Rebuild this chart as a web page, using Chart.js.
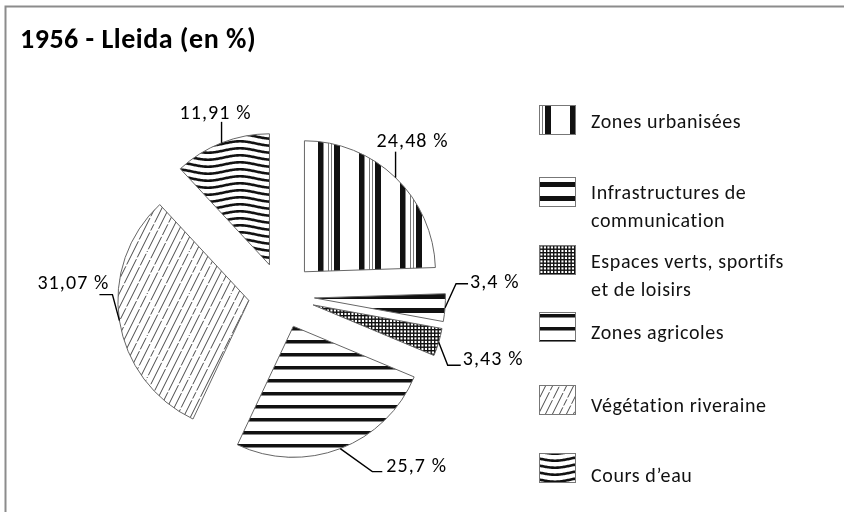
<!DOCTYPE html>
<html><head><meta charset="utf-8">
<script src="https://cdn.jsdelivr.net/npm/chart.js@4.4.0/dist/chart.umd.min.js"></script>
<style>html,body{margin:0;padding:0;background:#fff}#wrap{width:844px;height:512px;position:relative}</style>
</head><body><div id="wrap"><canvas id="c" width="844" height="512"></canvas></div>
<script>
// ---- data ----
const chartTitle = '1956 - Lleida (en %)';
const categories = [
  ['Zones urbanisées'],
  ['Infrastructures de', 'communication'],
  ['Espaces verts, sportifs', 'et de loisirs'],
  ['Zones agricoles'],
  ['Végétation riveraine'],
  ['Cours d\u2019eau']
];
const shares = [24.48, 3.4, 3.43, 25.7, 31.07, 11.91];
const fmt = v => String(v).replace('.', ',') + ' %';

// ---- styles / layout (not data) ----
const FONT = 'Carlito, Lato, "Open Sans", sans-serif';
const EXPLODE = 33;
const labelLayout = [
  {ex: 0,  ey: -26, tail: 0,   tx: -19, ty: -5, align: 'left'},
  {ex: 11, ey: -24, tail: 12,  tx: 2,   ty: 4,  align: 'left'},
  {ex: 9,  ey: 23,  tail: 13,  tx: 2,   ty: 0,  align: 'left'},
  {ex: 32, ey: 23,  tail: 10,  tx: 4,   ty: 0,  align: 'left'},
  {ex: -7, ey: -26, tail: -13, tx: 10,  ty: -6, align: 'right'},
  {ex: 0,  ey: -21, tail: 0,   tx: -42, ty: -3, align: 'left'}
];
const legendLayout = {boxX: 539, boxW: 37, boxH: 30, textX: 591, lineGap: 28,
  boxTops: [105, 177, 245, 312, 385, 453], baselines: [128, 199, 268, 339, 412, 482],
  patShift: [[0, 0], [0, 5], [0, 0], [0, 0], [0, 0], [0, 2]]};

const canvas = document.getElementById('c');
const ctx = canvas.getContext('2d');

function makeTile(w, h, draw) {
  const c = document.createElement('canvas');
  c.width = w; c.height = h;
  const g = c.getContext('2d');
  g.fillStyle = '#fff'; g.fillRect(0, 0, w, h);
  draw(g, w, h);
  return c;
}
const tiles = [
  makeTile(41, 4, g => {
    g.fillStyle = '#111'; g.fillRect(31, 0, 5.5, 4); g.fillRect(6, 0, 6, 4);
    g.fillStyle = '#777'; g.fillRect(0, 0, 1, 4); g.fillRect(3, 0, 1, 4);
  }),
  makeTile(4, 14, g => { g.fillStyle = '#111'; g.fillRect(0, 0, 4, 5); }),
  makeTile(7, 7, g => {
    g.fillStyle = '#111';
    g.fillRect(0, 0, 7, 1.4); g.fillRect(0, 3.5, 7, 1.4);
    g.fillRect(0, 0, 1.4, 7); g.fillRect(3.5, 0, 1.4, 7);
  }),
  makeTile(4, 13, g => { g.fillStyle = '#111'; g.fillRect(0, 2, 4, 3.5); }),
  makeTile(42, 42, g => {
    g.strokeStyle = '#333'; g.lineWidth = 0.9;
    const L = Math.hypot(21, 42);
    const d = [[30, 2, 13], [19, 2, 24], [36, 2, 7], [22, 2, 21], [12, 2, 31], [27, 2, 16]];
    for (let k = 0; k < 6; k++) {
      const dash = d[k].concat([L - d[k][0] - d[k][1] - d[k][2]]);
      for (const ox of [-42, 0, 42]) {
        g.setLineDash(dash); g.lineDashOffset = k * 7;
        g.beginPath(); g.moveTo(k * 7 + ox - 21, 84); g.lineTo(k * 7 + ox + 42, -42); g.stroke();
      }
    }
  }),
  makeTile(64, 7, g => {
    g.strokeStyle = '#111'; g.lineWidth = 2.6;
    for (const y0 of [-7, 0, 7, 14]) {
      g.beginPath();
      for (let x = -2; x <= 66; x++) {
        const y = y0 + 3.5 + 2.2 * Math.sin(2 * Math.PI * x / 64);
        if (x === -2) g.moveTo(x, y); else g.lineTo(x, y);
      }
      g.stroke();
    }
  })
];
const patterns = tiles.map(t => ctx.createPattern(t, 'repeat'));

const explodePlugin = {
  id: 'explode',
  afterDatasetUpdate(chart, args) {
    args.meta.data.forEach(el => {
      const mid = (el.startAngle + el.endAngle) / 2;
      el.x += Math.cos(mid) * EXPLODE;
      el.y += Math.sin(mid) * EXPLODE;
    });
  }
};

function setSpacing(c, px) { if ('letterSpacing' in c) c.letterSpacing = px + 'px'; }

const decorPlugin = {
  id: 'decor',
  afterDraw(chart) {
    const c = chart.ctx;
    c.save();
    // frame (top and left edges)
    c.strokeStyle = '#8c8c8c'; c.lineWidth = 2;
    c.beginPath(); c.moveTo(5.5, 512); c.lineTo(5.5, 6.5); c.lineTo(844, 6.5); c.stroke();
    // title
    c.fillStyle = '#000'; c.textBaseline = 'alphabetic'; c.textAlign = 'left';
    c.font = 'bold 28px ' + FONT; setSpacing(c, 0.5);
    c.fillText(chartTitle, 20, 48);
    // data labels with leader lines
    const meta = chart.getDatasetMeta(0);
    c.font = '20px ' + FONT; setSpacing(c, 1.1);
    c.strokeStyle = '#000'; c.lineWidth = 1.4;
    meta.data.forEach((el, i) => {
      const p = el.getProps(['x', 'y', 'startAngle', 'endAngle', 'outerRadius'], true);
      const mid = (p.startAngle + p.endAngle) / 2;
      const ax = p.x + Math.cos(mid) * p.outerRadius, ay = p.y + Math.sin(mid) * p.outerRadius;
      const L = labelLayout[i];
      const bx = ax + L.ex, by = ay + L.ey, cx = bx + L.tail;
      c.beginPath(); c.moveTo(ax, ay); c.lineTo(bx, by); c.lineTo(cx, by); c.stroke();
      c.textAlign = L.align;
      const txt = fmt(chart.data.datasets[0].data[i]);
      if (L.tail === 0) c.fillText(txt, ax + L.tx, by + L.ty);
      else c.fillText(txt, cx + L.tx, by + L.ty);
    });
    // legend
    const G = legendLayout;
    c.textAlign = 'left';
    c.font = '20px ' + FONT; setSpacing(c, 0.6);
    chart.data.labels.forEach((lab, i) => {
      const top = G.boxTops[i];
      c.save();
      c.beginPath(); c.rect(G.boxX, top, G.boxW, G.boxH); c.clip();
      c.translate(G.boxX + G.patShift[i][0], top + G.patShift[i][1]);
      c.fillStyle = chart.data.datasets[0].backgroundColor[i];
      c.fillRect(-20, -20, G.boxW + 40, G.boxH + 40);
      c.restore();
      c.strokeStyle = '#777'; c.lineWidth = 1;
      c.strokeRect(G.boxX + 0.5, top + 0.5, G.boxW - 1, G.boxH - 1);
      c.fillStyle = '#111';
      (Array.isArray(lab) ? lab : [lab]).forEach((line, j) => {
        c.fillText(line, G.textX, G.baselines[i] + j * G.lineGap);
      });
    });
    c.restore();
  }
};

new Chart(canvas, {
  type: 'pie',
  data: {
    labels: categories,
    datasets: [{
      data: shares,
      backgroundColor: patterns,
      borderColor: '#666',
      borderWidth: 1,
      offset: 0,
      clip: false
    }]
  },
  options: {
    responsive: false,
    animation: false,
    events: [],
    layout: {padding: {left: 150, right: 431, top: 164, bottom: 85}},
    plugins: {legend: {display: false}, title: {display: false}, tooltip: {enabled: false}}
  },
  plugins: [explodePlugin, decorPlugin]
});
</script></body></html>
